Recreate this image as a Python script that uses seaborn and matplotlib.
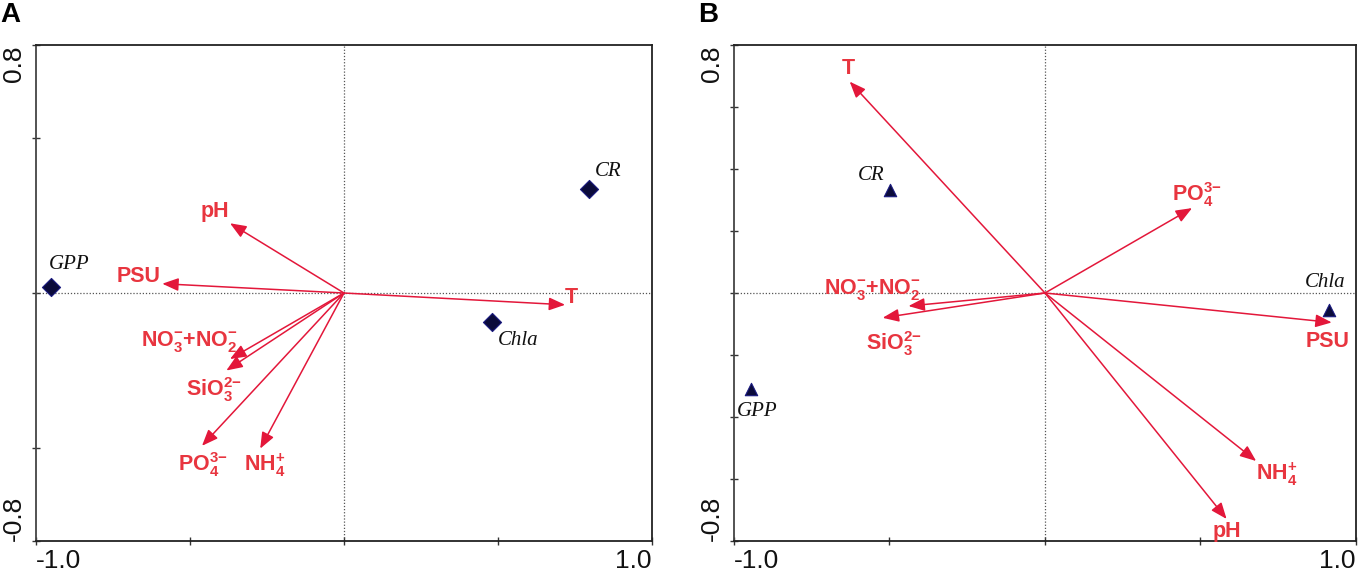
import seaborn as sns
import matplotlib.pyplot as plt
import pandas as pd

sns.set_theme(style="white")
plt.rcParams['font.family'] = ['Liberation Sans', 'DejaVu Sans']
plt.rcParams['mathtext.fontset'] = 'custom'
plt.rcParams['mathtext.rm'] = 'Liberation Sans:bold'
plt.rcParams['mathtext.bf'] = 'Liberation Sans:bold'

# ---- panel A ----
a_vars = ["T", "PSU", "pH", "NO3NO2", "SiO3", "PO4", "NH4"]
a_vx = [0.718, -0.590, -0.370, -0.370, -0.382, -0.461, -0.272]
a_vy = [-0.038, 0.030, 0.225, -0.213, -0.250, -0.493, -0.502]
a_lx = [0.739, -0.667, -0.420, -0.501, -0.423, -0.459, -0.258]
a_ly = [-0.016, 0.052, 0.262, -0.156, -0.313, -0.553, -0.557]

a_sites = ["GPP", "CR", "Chla"]
a_sx = [-0.951, 0.794, 0.482]
a_sy = [0.019, 0.337, -0.094]
a_slx = [-0.893, 0.857, 0.567]
a_sly = [0.091, 0.393, -0.154]

# ---- panel B ----
b_vars = ["T", "PO4", "NO3NO2", "SiO3", "PSU", "NH4", "pH"]
b_vx = [-0.628, 0.473, -0.439, -0.522, 0.922, 0.679, 0.584]
b_vy = [0.682, 0.274, -0.042, -0.080, -0.095, -0.542, -0.729]
b_lx = [-0.633, 0.487, -0.554, -0.487, 0.908, 0.746, 0.584]
b_ly = [0.724, 0.319, 0.012, -0.163, -0.157, -0.586, -0.771]

b_sites = ["GPP", "CR", "Chla"]
b_sx = [-0.946, -0.498, 0.912]
b_sy = [-0.310, 0.331, -0.056]
b_slx = [-0.926, -0.559, 0.901]
b_sly = [-0.383, 0.379, 0.033]

var_text = {
    "T": "T", "PSU": "PSU", "pH": "pH",
    "NO3NO2": r"$\mathbf{NO_3^{{-}}{+}NO_2^{{-}}}$",
    "SiO3": r"$\mathbf{SiO_3^{2{-}}}$",
    "PO4": r"$\mathbf{PO_4^{3{-}}}$",
    "NH4": r"$\mathbf{NH_4^{+}}$",
}

arrow_col = "#e3173a"
text_col = "#e8353f"
pt_col = "#0b0b3b"


def draw_panel(ax, vars_, vx, vy, lx, ly, sites, sx, sy, slx, sly,
               marker, msize, yticks, letter):
    ax.axhline(0, color="#555555", lw=0.9, ls=(0, (1, 1.5)), zorder=1)
    ax.axvline(0, color="#555555", lw=0.9, ls=(0, (1, 1.5)), zorder=1)

    for x, y in zip(vx, vy):
        ax.annotate("", xy=(x, y), xytext=(0, 0),
                    arrowprops=dict(arrowstyle="-|>,head_length=0.7,head_width=0.28",
                                    color=arrow_col, lw=1.1, mutation_scale=14,
                                    shrinkA=0, shrinkB=0), zorder=3)
    for v, x, y in zip(vars_, lx, ly):
        ax.text(x, y, var_text[v], color=text_col, fontsize=15.5,
                fontweight="bold", ha="center", va="center", zorder=4)

    df = pd.DataFrame({"x": sx, "y": sy, "site": sites})
    sns.scatterplot(data=df, x="x", y="y", marker=marker, s=msize,
                    color=pt_col, edgecolor="#1a1a80", linewidth=0.8,
                    ax=ax, zorder=5, legend=False)
    for s, x, y in zip(sites, slx, sly):
        ax.text(x, y, s, family="Liberation Serif", style="italic",
                fontsize=15, color="#111111", ha="center", va="center")

    ax.set_xlim(-1.0, 1.0)
    ax.set_ylim(-0.8, 0.8)
    ax.set_xlabel("")
    ax.set_ylabel("")
    ax.set_xticks([-1.0, -0.5, 0, 0.5, 1.0])
    ax.set_xticklabels(["-1.0", "", "", "", "1.0"])
    ax.set_yticks(yticks)
    ylabs = [""] * len(yticks)
    ylabs[0] = "-0.8"
    ylabs[-1] = "0.8"
    ax.set_yticklabels(ylabs, rotation=90)
    ax.tick_params(direction="inout", length=6, width=1, colors="#333333",
                   labelsize=19, labelcolor="#111111")
    ax.tick_params(axis="x", pad=2.5, bottom=True)
    ax.tick_params(axis="y", pad=4, left=True)
    xl = ax.get_xticklabels()
    xl[0].set_ha("left")
    xl[-1].set_ha("right")
    yl = ax.get_yticklabels()
    yl[0].set_va("bottom")
    yl[-1].set_va("top")
    for side in ["top", "bottom", "left", "right"]:
        ax.spines[side].set_color("#222222")
        ax.spines[side].set_linewidth(1.3)
    ax.spines["left"].set_color("#444444")
    ax.figure.text(ax.get_position().x0 - 0.0265, 0.997, letter,
                   fontsize=20, fontweight="bold", color="black",
                   ha="left", va="top")


fig = plt.figure(figsize=(13.58, 5.76), dpi=100)
axA = fig.add_axes([0.0265, 0.0608, 0.4536, 0.861])
axB = fig.add_axes([0.5405, 0.0608, 0.4580, 0.861])

draw_panel(axA, a_vars, a_vx, a_vy, a_lx, a_ly, a_sites, a_sx, a_sy,
           a_slx, a_sly, "D", 85, [-0.8, -0.5, 0, 0.5, 0.8], "A")
draw_panel(axB, b_vars, b_vx, b_vy, b_lx, b_ly, b_sites, b_sx, b_sy,
           b_slx, b_sly, "^", 80,
           [-0.8, -0.6, -0.4, -0.2, 0, 0.2, 0.4, 0.6, 0.8], "B")

fig.savefig("out.png", dpi=100)
